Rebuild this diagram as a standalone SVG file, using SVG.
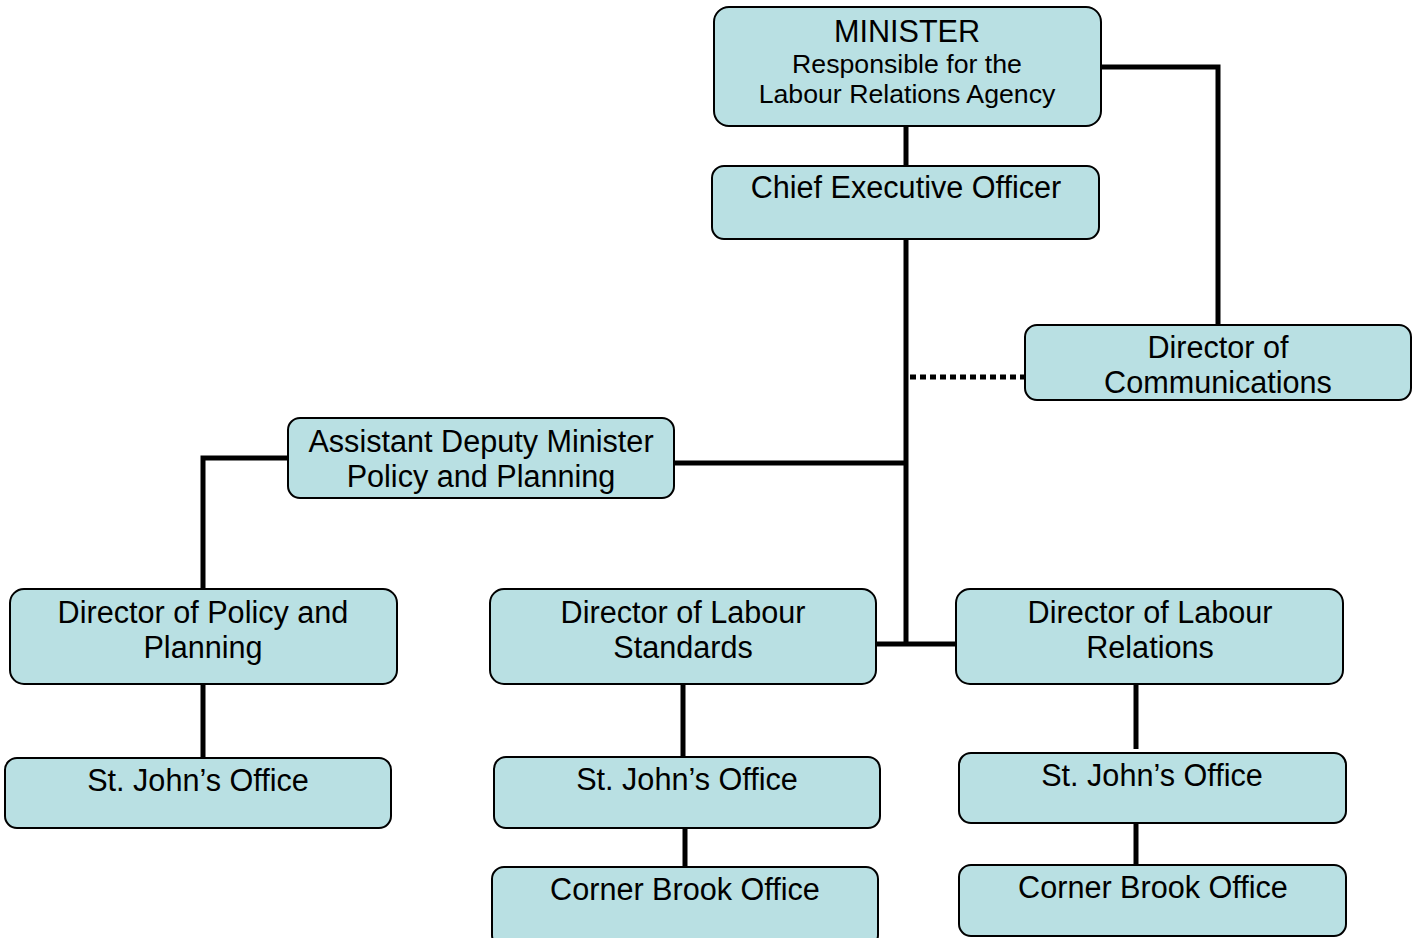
<svg xmlns="http://www.w3.org/2000/svg" width="1416" height="938" viewBox="0 0 1416 938">
<style>
.box{fill:#B9E0E3;stroke:#000;stroke-width:2}
.t{font-family:"Liberation Sans",Arial,sans-serif;font-size:30.6px;fill:#000;text-anchor:middle}
.s{font-size:26.7px}
.c{fill:none;stroke:#000;stroke-width:5}
.d{fill:none;stroke:#000;stroke-width:5;stroke-dasharray:6 4}
</style>
<rect width="1416" height="938" fill="#fff"/>
<g id="connectors">
<path class="c" d="M906 126V166"/>
<path class="c" d="M1101 67H1218V325"/>
<path class="c" d="M906 239V644"/>
<path class="d" d="M910 377H1025"/>
<path class="c" d="M674 463H906"/>
<path class="c" d="M288 458H203V589"/>
<path class="c" d="M876 644H956"/>
<path class="c" d="M203 684V758"/>
<path class="c" d="M683 684V757"/>
<path class="c" d="M685 828V867"/>
<path class="c" d="M1136 684V749"/>
<path class="c" d="M1136 823V865"/>
</g>
<g id="minister"><rect class="box" x="714" y="7" width="387" height="119" rx="15"/>
<text class="t" x="907" y="42">MINISTER</text>
<text class="t s" x="907" y="73">Responsible for the</text>
<text class="t s" x="907" y="103">Labour Relations Agency</text></g>
<g id="ceo"><rect class="box" x="712" y="166" width="387" height="73" rx="12"/>
<text class="t" x="906" y="198">Chief Executive Officer</text></g>
<g id="comm"><rect class="box" x="1025" y="325" width="386" height="75" rx="12"/>
<text class="t" x="1218" y="358">Director of</text>
<text class="t" x="1218" y="393">Communications</text></g>
<g id="adm"><rect class="box" x="288" y="418" width="386" height="80" rx="12"/>
<text class="t" x="481" y="452">Assistant Deputy Minister</text>
<text class="t" x="481" y="487">Policy and Planning</text></g>
<g id="policy"><rect class="box" x="10" y="589" width="387" height="95" rx="14"/>
<text class="t" x="203" y="623">Director of Policy and</text>
<text class="t" x="203" y="658">Planning</text></g>
<g id="standards"><rect class="box" x="490" y="589" width="386" height="95" rx="14"/>
<text class="t" x="683" y="623">Director of Labour</text>
<text class="t" x="683" y="658">Standards</text></g>
<g id="relations"><rect class="box" x="956" y="589" width="387" height="95" rx="14"/>
<text class="t" x="1150" y="623">Director of Labour</text>
<text class="t" x="1150" y="658">Relations</text></g>
<g id="sj-left"><rect class="box" x="5" y="758" width="386" height="70" rx="12"/>
<text class="t" x="198" y="791">St. John’s Office</text></g>
<g id="sj-mid"><rect class="box" x="494" y="757" width="386" height="71" rx="12"/>
<text class="t" x="687" y="790">St. John’s Office</text></g>
<g id="cb-mid"><rect class="box" x="492" y="867" width="386" height="80" rx="12"/>
<text class="t" x="685" y="900">Corner Brook Office</text></g>
<g id="sj-right"><rect class="box" x="959" y="753" width="387" height="70" rx="12"/>
<text class="t" x="1152" y="786">St. John’s Office</text></g>
<g id="cb-right"><rect class="box" x="959" y="865" width="387" height="71" rx="12"/>
<text class="t" x="1153" y="898">Corner Brook Office</text></g>
</svg>
